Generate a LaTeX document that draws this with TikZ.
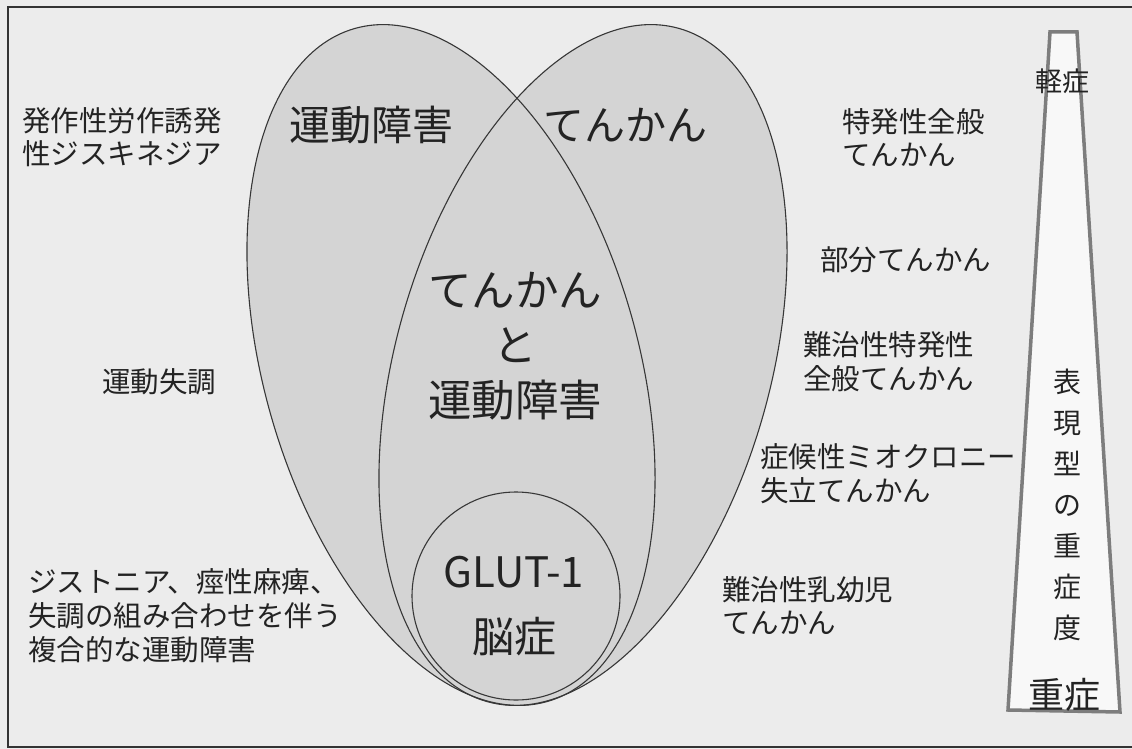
\documentclass[tikz,border=0pt]{standalone}
\usepackage{fontspec}
\newfontfamily\jp{Noto Sans CJK JP}
\definecolor{bgcol}{RGB}{236,236,236}
\definecolor{vennfill}{RGB}{212,212,212}
\definecolor{vennline}{RGB}{55,55,55}
\definecolor{trapline}{RGB}{125,125,125}
\definecolor{trapfill}{RGB}{248,248,248}
\definecolor{txt}{RGB}{35,35,35}
\begin{document}
\begin{tikzpicture}[x=1pt,y=-1pt,
  lbl/.style={font=\jp\fontsize{28.5}{34}\selectfont, align=left, anchor=west, inner sep=0pt, text=txt},
  big/.style={font=\jp\fontsize{41}{56}\selectfont, align=center, inner sep=0pt, text=txt},
  setline/.style={draw=vennline, line width=1.1pt},
  frameline/.style={draw=black!80, line width=1.2pt},
  trap/.style={draw=trapline, fill=trapfill, line width=3.5pt, line join=miter}
]
\useasboundingbox (0,0) rectangle (1132,749);
\fill[bgcol] (0,0) rectangle (1132,749);
\path[frameline] (1140,7) -- (8,7) -- (8,747) -- (1140,747);

% Venn sets
\fill[vennfill, rotate around={16:(451,365)}] (451,365) ellipse [x radius=187pt, y radius=350pt];
\fill[vennfill, rotate around={-16:(583,365)}] (583,365) ellipse [x radius=187pt, y radius=350pt];
\path[setline, rotate around={16:(451,365)}] (451,365) ellipse [x radius=187pt, y radius=350pt];
\path[setline, rotate around={-16:(583,365)}] (583,365) ellipse [x radius=187pt, y radius=350pt];
\path[setline, fill=vennfill] (516,596) circle [radius=104pt];

% severity bar
\path[trap] (1050,32) -- (1077,32) -- (1120,712) -- (1008,710) -- cycle;

% set labels
\node[big] (motor) at (371,125) {運動障害};
\node[big] (epi) at (625,125) {てんかん};
\node[big, font=\jp\fontsize{43.5}{55}\selectfont] (both) at (515,346) {てんかん\\と\\運動障害};
\node[big, font=\jp\fontsize{42}{65}\selectfont] (glut) at (514,606) {GLUT-1\\脳症};

% left labels
\node[lbl, font=\jp\fontsize{28.5}{33}\selectfont] (pked) at (22,137) {発作性労作誘発\\性ジスキネジア};
\node[lbl] (ataxia) at (102,382) {運動失調};
\node[lbl] (complex) at (28,616) {ジストニア、痙性麻痺、\\失調の組み合わせを伴う\\複合的な運動障害};

% right labels
\node[lbl, font=\jp\fontsize{28.5}{33}\selectfont] (ige) at (842,138) {特発性全般\\てんかん};
\node[lbl] (focal) at (820,260) {部分てんかん};
\node[lbl] (rige) at (803,362) {難治性特発性\\全般てんかん};
\node[lbl] (mae) at (760,474) {症候性ミオクロニー\\失立てんかん};
\node[lbl, font=\jp\fontsize{28.5}{33}\selectfont] (infant) at (722,606) {難治性乳幼児\\てんかん};

% severity labels
\node[big, font=\jp\fontsize{27}{30}\selectfont] (mild) at (1062,81) {軽症};
\node[big, font=\jp\fontsize{28}{41}\selectfont] (sevlabel) at (1067,505) {表\\現\\型\\の\\重\\症\\度};
\node[big, font=\jp\fontsize{36}{40}\selectfont] (severe) at (1064,695) {重症};
\end{tikzpicture}
\end{document}
